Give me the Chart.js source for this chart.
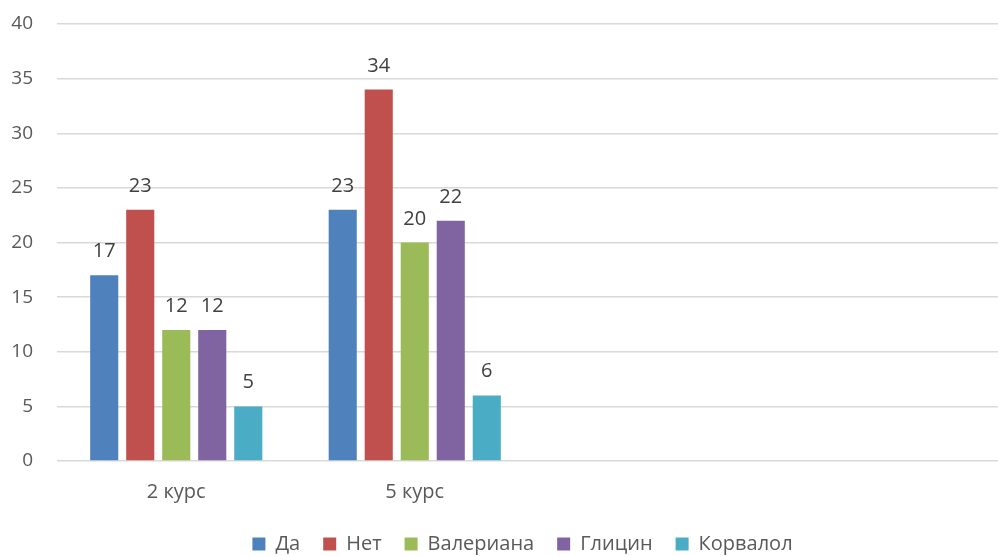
<!DOCTYPE html>
<html>
<head>
<meta charset="utf-8">
<script src="https://cdn.jsdelivr.net/npm/chart.js@4/dist/chart.umd.min.js"></script>
<style>
html, body { margin: 0; padding: 0; background: #fff; overflow: hidden; }
#wrap { width: 1044px; height: 556px; }
</style>
</head>
<body>
<div id="wrap"><canvas id="barChart" width="1044" height="556"></canvas></div>
<script>
// data
var categories = ["2 курс", "5 курс", "", ""];
var seriesNames = ["Да", "Нет", "Валериана", "Глицин", "Корвалол"];
var da = [17, 23, null, null];
var net = [23, 34, null, null];
var valeriana = [12, 20, null, null];
var glicin = [12, 22, null, null];
var korvalol = [5, 6, null, null];
var yTicks = [0, 5, 10, 15, 20, 25, 30, 35, 40];

var colors = ["#4F81BD", "#C0504D", "#9BBB59", "#8064A2", "#4BACC6"];
var allValues = [da, net, valeriana, glicin, korvalol];
var fontName = "'Open Sans', 'Noto Sans', sans-serif";
var textColor = "#595959";

Chart.defaults.font.family = fontName;
Chart.defaults.color = textColor;

var datasets = seriesNames.map(function (name, i) {
  return {
    label: name,
    data: allValues[i],
    backgroundColor: colors[i],
    barPercentage: 0.78,
    categoryPercentage: 0.755
  };
});

// draws the value above each bar, and fixes the legend box
var valueLabels = {
  id: 'valueLabels',
  afterInit: function (chart) {
    var lg = chart.legend;
    var origFit = lg.fit;
    lg.fit = function () {
      origFit.call(this);
      this.height = 45;
    };
  },
  afterLayout: function (chart) {
    // original legend was centred on a slightly wider chart
    chart.legend.left += 17;
    chart.legend.right += 17;
  },
  afterDatasetsDraw: function (chart) {
    var ctx = chart.ctx;
    ctx.save();
    ctx.font = "20px " + fontName;
    ctx.fillStyle = "#404040";
    ctx.textAlign = "center";
    ctx.textBaseline = "alphabetic";
    chart.data.datasets.forEach(function (ds, i) {
      chart.getDatasetMeta(i).data.forEach(function (bar, j) {
        if (ds.data[j] == null) return;
        ctx.fillText(ds.data[j], bar.x, bar.y - 18);
      });
    });
    ctx.restore();
  }
};

var ctx = document.getElementById("barChart").getContext('2d');
var myBarChart = new Chart(ctx, {
  type: 'bar',
  data: {
    labels: categories,
    datasets: datasets
  },
  plugins: [valueLabels],
  options: {
    responsive: false,
    animation: false,
    layout: { padding: { top: 24, right: 33, left: 0, bottom: 0 } },
    plugins: {
      tooltip: { enabled: false },
      legend: {
        position: 'bottom',
        labels: {
          color: textColor,
          font: { family: fontName, size: 20 },
          boxWidth: 13,
          boxHeight: 13,
          padding: 23
        }
      }
    },
    scales: {
      x: {
        grid: { display: false, drawTicks: false },
        border: { display: false },
        ticks: { color: textColor, font: { family: fontName, size: 20 }, padding: 19, maxRotation: 0, minRotation: 0 },
        afterFit: function (scale) { scale.height = 50; }
      },
      y: {
        min: 0,
        max: 40,
        afterBuildTicks: function (scale) {
          scale.ticks = yTicks.map(function (v) { return { value: v }; });
        },
        grid: { color: "#d9d9d9", lineWidth: 1.5, drawTicks: false },
        border: { display: false },
        ticks: { color: textColor, font: { family: fontName, size: 19 }, padding: 24 },
        afterFit: function (scale) {
          scale.width = 57;
          scale.paddingTop = 0;
          scale.paddingBottom = 0;
        }
      }
    }
  }
});
</script>
</body>
</html>
